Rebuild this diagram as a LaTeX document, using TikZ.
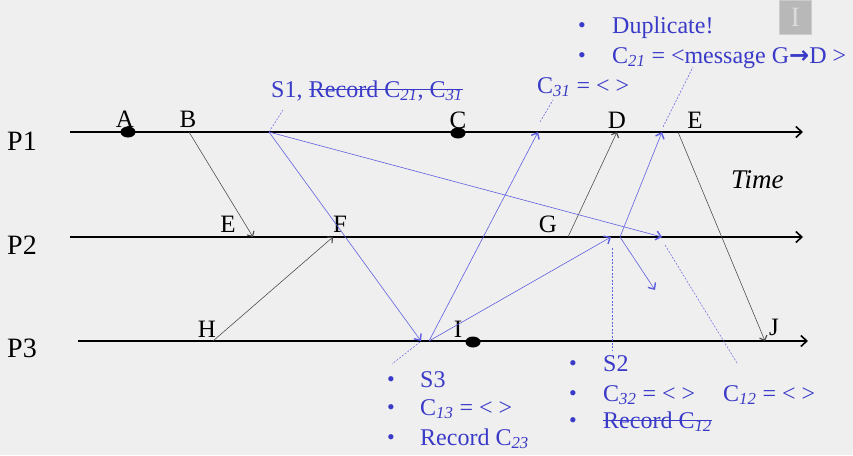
\documentclass[tikz,border=0pt]{standalone}
\usepackage{fontspec}
\setmainfont{Liberation Serif}
\newfontfamily\dvfont{DejaVu Sans}
\usetikzlibrary{arrows.meta,shapes.geometric}
\definecolor{bgc}{RGB}{239,239,239}
\definecolor{btext}{RGB}{58,58,200}
\definecolor{bline}{RGB}{95,95,225}
\definecolor{mline}{RGB}{70,70,70}
\newcommand\sbx[1]{\textsubscript{\textit{#1}}}
\tikzset{
  proc/.style={line width=1.6pt, -{Straight Barb[length=6pt,width=11pt,line width=1.6pt]}},
  msg/.style={draw=mline, line width=0.55pt, -{Straight Barb[length=4pt,width=8pt,line width=1.1pt]}},
  bmsg/.style={draw=bline, line width=0.6pt, -{Straight Barb[length=5pt,width=9pt,line width=1.4pt]}, color=bline},
  note/.style={draw=bline, line width=0.5pt, dash pattern=on 2pt off 1.5pt},
  strike/.style={draw=btext, line width=1pt},
  plabel/.style={font=\fontsize{28}{32}\selectfont, anchor=base west, inner sep=0pt},
  elabel/.style={font=\fontsize{25}{28}\selectfont, anchor=base, inner sep=0pt},
  btxt/.style={text=btext, font=\fontsize{24}{28}\selectfont, anchor=base west, inner sep=0pt},
  bul/.style={text=btext, font=\fontsize{22}{24}\selectfont, anchor=base, inner sep=0pt},
  evdot/.style={fill=black, ellipse, minimum width=15pt, minimum height=11pt, inner sep=0pt, draw=none},
}
\begin{document}
\begin{tikzpicture}[x=1pt,y=-1pt]
\fill[bgc] (0,0) rectangle (853,455);
\useasboundingbox (0,0) rectangle (853,455);
% cursor icon
\node[fill=black!28, draw=black!20, minimum width=32pt, minimum height=34pt, inner sep=0pt, anchor=north west] (icon) at (779,0) {};
\node[text=black!14, font=\fontsize{28}{30}\selectfont, inner sep=0pt] (iconI) at (icon.center) {I};
% process lines
\coordinate (p1s) at (70,132); \coordinate (p1e) at (803,132);
\coordinate (p2s) at (70,237); \coordinate (p2e) at (803,237);
\coordinate (p3s) at (78,341); \coordinate (p3e) at (808,341);
\draw[proc] (p1s) -- (p1e);
\draw[proc] (p2s) -- (p2e);
\draw[proc] (p3s) -- (p3e);
\node[plabel] (P1) at (7,150) {P1};
\node[plabel] (P2) at (7,254) {P2};
\node[plabel] (P3) at (7,357) {P3};
% event labels
\node[elabel] (lA) at (125,127) {A};
\node[elabel] (lB) at (188,127) {B};
\node[elabel] (lC) at (458,128) {C};
\node[elabel] (lD) at (617,128) {D};
\node[elabel] (lE1) at (695,128) {E};
\node[elabel] (lE2) at (228,232) {E};
\node[elabel] (lF) at (340,232) {F};
\node[elabel] (lG) at (548,232) {G};
\node[elabel] (lH) at (207,337) {H};
\node[elabel] (lI) at (458,337) {I};
\node[elabel] (lJ) at (774,335) {J};
\node[font=\fontsize{27}{30}\selectfont\itshape, anchor=base west, inner sep=0pt] (time) at (731,188) {Time};
% dots
\node[evdot] (dA) at (128,132) {};
\node[evdot] (dC) at (458,133) {};
\node[evdot] (dI) at (473,342) {};
% event points
\coordinate (B) at (189,132);
\coordinate (E2) at (253,237);
\coordinate (H) at (213,341);
\coordinate (F) at (333,237);
\coordinate (G) at (568,237);
\coordinate (D) at (617,132);
\coordinate (E1) at (678,132);
\coordinate (J) at (765,341);
% black messages
\draw[msg] (B) -- (E2);
\draw[msg] (H) -- (F);
\draw[msg] (G) -- (D);
\draw[msg] (E1) -- (J);
% snapshot points
\coordinate (S1) at (269,132);
\coordinate (S1r) at (421,341);
\coordinate (S1g) at (662,237);
\coordinate (S3) at (429,341);
\coordinate (S3a) at (538,132);
\coordinate (S3b) at (611,237);
\coordinate (S2) at (620,237);
\coordinate (S2a) at (662,132);
\coordinate (S2b) at (655,290);
\draw[bmsg] (S1) -- (S1r);
\draw[bmsg] (S1) -- (S1g);
\draw[bmsg] (S3) -- (S3a);
\draw[bmsg] (S3) -- (S3b);
\draw[bmsg] (S2) -- (S2a);
\draw[bmsg] (S2) -- (S2b);
% annotation leaders
\coordinate (n1a) at (269,132); \coordinate (n1b) at (283,110);
\coordinate (n2a) at (540,122); \coordinate (n2b) at (553,100);
\coordinate (n3a) at (663,127); \coordinate (n3b) at (693,67);
\coordinate (n4a) at (420,342); \coordinate (n4b) at (392,364);
\coordinate (n5a) at (612,248); \coordinate (n5b) at (612,350);
\coordinate (n6a) at (665,245); \coordinate (n6b) at (737,363);
\draw[note] (n1a) -- (n1b);
\draw[note] (n2a) -- (n2b);
\draw[note] (n3a) -- (n3b);
\draw[note] (n4a) -- (n4b);
\draw[note] (n5a) -- (n5b);
\draw[note] (n6a) -- (n6b);
% annotations
\node[btxt] (tS1) at (271,97) {S1,\kern6pt};
\node[btxt] (tS1s) at (tS1.base east) {Record C\sbx{21}, C\sbx{31}};
\draw[strike] ([yshift=8pt]tS1s.base west) -- ([yshift=8pt]tS1s.base east);
\node[btxt] (tC31) at (537,93) {C\sbx{31} = < >};
\node[bul] (b1) at (582,32) {\textbullet};
\node[btxt] (tDup) at (612,33) {Duplicate!};
\node[bul] (b2) at (582,62) {\textbullet};
\node[btxt] (tC21) at (612,63) {C\sbx{21} = <message G{\dvfont\bfseries →}D >};
\node[bul] (b3) at (391,386) {\textbullet};
\node[btxt] (tS3) at (420,387) {S3};
\node[bul] (b4) at (391,414) {\textbullet};
\node[btxt] (tC13) at (420,415) {C\sbx{13} = < >};
\node[bul] (b5) at (391,444) {\textbullet};
\node[btxt] (tR23) at (420,445) {Record C\sbx{23}};
\node[bul] (b6) at (573,370) {\textbullet};
\node[btxt] (tS2) at (603,371) {S2};
\node[bul] (b7) at (573,400) {\textbullet};
\node[btxt] (tC32) at (603,401) {C\sbx{32} = < >};
\node[btxt] (tC12) at (723,401) {C\sbx{12} = < >};
\node[bul] (b8) at (573,427) {\textbullet};
\node[btxt] (tR12) at (603,428) {Record C\sbx{12}};
\draw[strike] ([yshift=8pt]tR12.base west) -- ([yshift=8pt]tR12.base east);
\end{tikzpicture}
\end{document}
